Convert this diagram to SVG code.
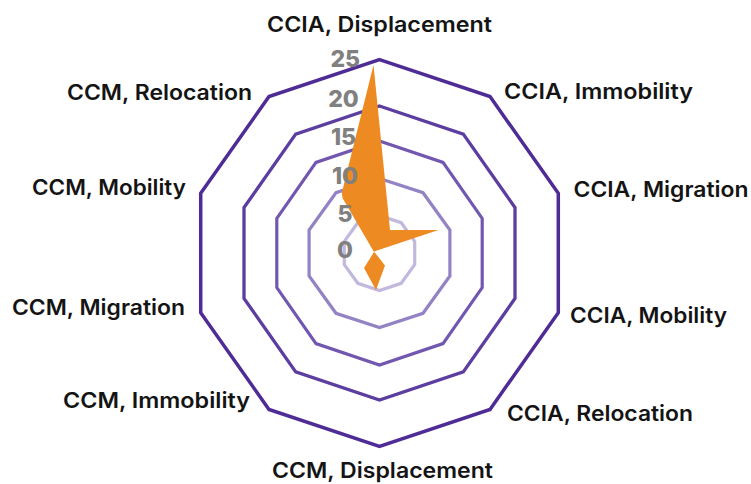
<svg xmlns="http://www.w3.org/2000/svg" width="751" height="484" viewBox="0 0 751 484">
  <style>
    .ring { fill: none; stroke-linejoin: miter; }
    .cat { font-family: "Inter", "Liberation Sans", sans-serif; font-weight: 600; font-size: 21.5px; fill: #141414; }
    .tick { font-family: "Inter", "Liberation Sans", sans-serif; font-weight: 800; font-size: 23px; fill: #808080; text-anchor: middle; }
  </style>
  <rect width="751" height="484" fill="#ffffff"/>

  <!-- grid rings: values 5 .. 25 -->
  <g id="grid">
    <polygon id="ring-25" class="ring" stroke="#4f2b96" stroke-width="3.5"
      points="379.5,59.7 490,96.6 558.3,193.3 558.3,312.7 490,409.4 379.5,446.3 269,409.4 200.7,312.7 200.7,193.3 269,96.6"/>
    <polygon id="ring-20" class="ring" stroke="#5c3da0" stroke-width="3.3"
      points="379.5,106 463.3,134.1 515,207.6 515,298.4 463.3,371.9 379.5,400 295.7,371.9 244,298.4 244,207.6 295.7,134.1"/>
    <polygon id="ring-15" class="ring" stroke="#7157b0" stroke-width="3.2"
      points="379.5,141 443,162.4 482.2,218.4 482.2,287.6 443,343.6 379.5,365 316,343.6 276.8,287.6 276.8,218.4 316,162.4"/>
    <polygon id="ring-10" class="ring" stroke="#9382c4" stroke-width="3.2"
      points="379.5,178.5 423,192.7 449.9,230 449.9,276 423,313.3 379.5,327.5 336,313.3 309.1,276 309.1,230 336,192.7"/>
    <polygon id="ring-5" class="ring" stroke="#c2b8de" stroke-width="3.2"
      points="379.5,215.5 401.2,222.7 414.7,241.4 414.7,264.6 401.2,283.3 379.5,290.5 357.8,283.3 344.3,264.6 344.3,241.4 357.8,222.7"/>
  </g>

  <!-- data series -->
  <g id="series">
    <polygon fill="#ed8a22"
      points="373.5,65 390,230 438.5,230 374,251.5 385,265.5 376,290 364,268 374,252 342.5,198 341.8,193"/>
  </g>

  <!-- radial axis values -->
  <g id="axis-values">
    <text class="tick" x="345.3" y="66.7">25</text>
    <text class="tick" x="343.5" y="106.7">20</text>
    <text class="tick" x="343.5" y="145">15</text>
    <text class="tick" x="345" y="183.5">10</text>
    <text class="tick" x="345" y="221.7">5</text>
    <text class="tick" x="345" y="258.3">0</text>
  </g>

  <!-- category labels -->
  <g id="categories">
    <text id="cat-ccia-displacement" class="cat" x="267" y="32.3" textLength="225" lengthAdjust="spacingAndGlyphs">CCIA, Displacement</text>
    <text id="cat-ccia-immobility" class="cat" x="504" y="99" textLength="189" lengthAdjust="spacingAndGlyphs">CCIA, Immobility</text>
    <text id="cat-ccia-migration" class="cat" x="573.5" y="197" textLength="175" lengthAdjust="spacingAndGlyphs">CCIA, Migration</text>
    <text id="cat-ccia-mobility" class="cat" x="570" y="323" textLength="157" lengthAdjust="spacingAndGlyphs">CCIA, Mobility</text>
    <text id="cat-ccia-relocation" class="cat" x="507" y="420.5" textLength="186" lengthAdjust="spacingAndGlyphs">CCIA, Relocation</text>
    <text id="cat-ccm-displacement" class="cat" x="272" y="477.5" textLength="221" lengthAdjust="spacingAndGlyphs">CCM, Displacement</text>
    <text id="cat-ccm-immobility" class="cat" x="63" y="408" textLength="187" lengthAdjust="spacingAndGlyphs">CCM, Immobility</text>
    <text id="cat-ccm-migration" class="cat" x="12" y="314.5" textLength="173" lengthAdjust="spacingAndGlyphs">CCM, Migration</text>
    <text id="cat-ccm-mobility" class="cat" x="32" y="195" textLength="154" lengthAdjust="spacingAndGlyphs">CCM, Mobility</text>
    <text id="cat-ccm-relocation" class="cat" x="67" y="100" textLength="185" lengthAdjust="spacingAndGlyphs">CCM, Relocation</text>
  </g>
</svg>
